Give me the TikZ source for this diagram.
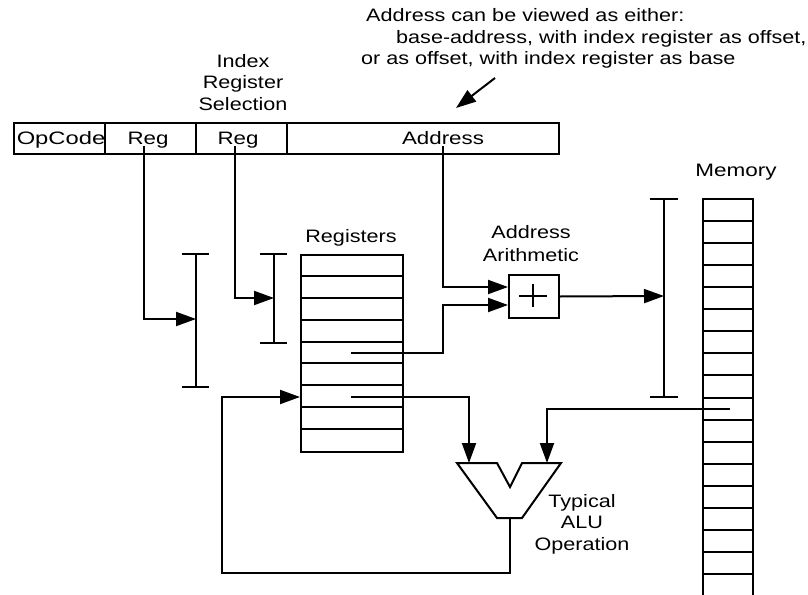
\documentclass[tikz,border=0pt]{standalone}
\usepackage{fontspec}
\setmainfont{Liberation Sans}
\usepackage{graphicx}
\usetikzlibrary{arrows.meta}
% horizontally widened, centred label text (one or more lines)
\newcommand{\widetext}[2][1.2]{\scalebox{#1}[1]{\begin{tabular}[t]{@{}c@{}}#2\end{tabular}}}
\tikzset{
  wire/.style={line width=2pt},
  flow/.style={wire, -{Triangle[length=20pt,width=14pt]}},
  txt/.style={inner sep=0pt, anchor=base, font=\fontsize{18}{21.5}\selectfont},
  box/.style={draw, wire, inner sep=0pt, anchor=north west},
}
\begin{document}
\begin{tikzpicture}[x=1pt, y=-1pt]
\useasboundingbox (0,0) rectangle (808,594);
\clip (0,0) rectangle (808,594);

% explanatory note and its pointer
\node[txt, anchor=base west] (note1) at (366,22) {\widetext{Address can be viewed as either:}};
\node[txt, anchor=base west] (note2) at (396,44) {\widetext{base-address, with index register as offset,}};
\node[txt, anchor=base west] (note3) at (361,65) {\widetext{or as offset, with index register as base}};
\coordinate (ptrStart) at (495,78);
\coordinate (ptrEnd) at (456,108);
\draw[flow] (ptrStart) -- (ptrEnd);

\node[txt] (lblIdx) at (243,67) {\widetext{Index\\Register\\Selection}};

% instruction word
\node[box, minimum width=545, minimum height=31] (instr) at (13,122) {};
\draw[wire] (105,122) -- (105,153) (196,122) -- (196,153) (287,122) -- (287,153);
\node[txt] (lblOp) at (61,144) {\widetext[1.32]{OpCode}};
\node[txt] (lblR1) at (148,144) {\widetext[1.24]{Reg}};
\node[txt] (lblR2) at (238,144) {\widetext[1.24]{Reg}};
\node[txt] (lblAd) at (443,144) {\widetext[1.24]{Address}};

% register selection brackets
\draw[wire] (182,254) -- (209,254) (196,254) -- (196,387) (182,387) -- (209,387);
\draw[wire] (260,254) -- (287,254) (274,254) -- (274,343) (260,343) -- (287,343);

% register file
\node[txt] (lblRegs) at (351,242) {\widetext{Registers}};
\node[box, minimum width=102, minimum height=197] (regs) at (300,254) {};
\foreach \ry in {276,298,320,342,363,385,407,429} \draw[wire] (300,\ry) -- (402,\ry);

% address adder
\node[txt, font=\fontsize{18}{23}\selectfont] (lblArith) at (531,238) {\widetext{Address\\Arithmetic}};
\node[box, minimum width=50, minimum height=43] (adder) at (508,274) {};
\draw[wire] (519,296) -- (547,296) (533,284) -- (533,307);

% memory bracket and memory column
\draw[wire] (650,199) -- (678,199) (664,199) -- (664,397) (650,397) -- (678,397);
\node[txt] (lblMem) at (736,176) {\widetext[1.25]{Memory}};
\draw[wire] (703,600) -- (703,199) -- (753,199) -- (753,600);
\foreach \my in {221,243,265,287,309,331,353,375,398,420,442,464,486,508,530,552,574}
  \draw[wire] (703,\my) -- (753,\my);

% ALU
\draw[wire, line join=miter] (457,463) -- (497,463) -- (510,487) -- (522,463)
  -- (561,463) -- (522,518) -- (497,518) -- cycle;
\node[txt] (lblAlu) at (582,507) {\widetext{Typical\\ALU\\Operation}};

% connectors
\coordinate (srcR1) at (144,146);
\coordinate (dstR1) at (196,319);
\draw[flow] (srcR1) |- (dstR1);

\coordinate (srcR2) at (235,146);
\coordinate (dstR2) at (274,298);
\draw[flow] (srcR2) |- (dstR2);

\coordinate (srcAd) at (443,146);
\coordinate (addIn1) at (508,287);
\draw[flow] (srcAd) |- (addIn1);

\coordinate (regBase) at (351,353);
\coordinate (bendBase) at (443,353);
\coordinate (addIn2) at (508,305);
\draw[flow] (regBase) -- (bendBase) |- (addIn2);

\coordinate (memSel) at (664,296);
\draw[flow] (adder.east) -- (memSel);

\coordinate (regOperand) at (351,397);
\coordinate (aluInA) at (469,463);
\draw[flow] (regOperand) -| (aluInA);

\coordinate (memOperand) at (730,409);
\coordinate (aluInB) at (547,463);
\draw[flow] (memOperand) -| (aluInB);

\coordinate (aluOut) at (510,518);
\coordinate (fbCorner) at (222,573);
\coordinate (regIn) at (300,397);
\draw[flow] (aluOut) |- (fbCorner) |- (regIn);
\end{tikzpicture}
\end{document}
